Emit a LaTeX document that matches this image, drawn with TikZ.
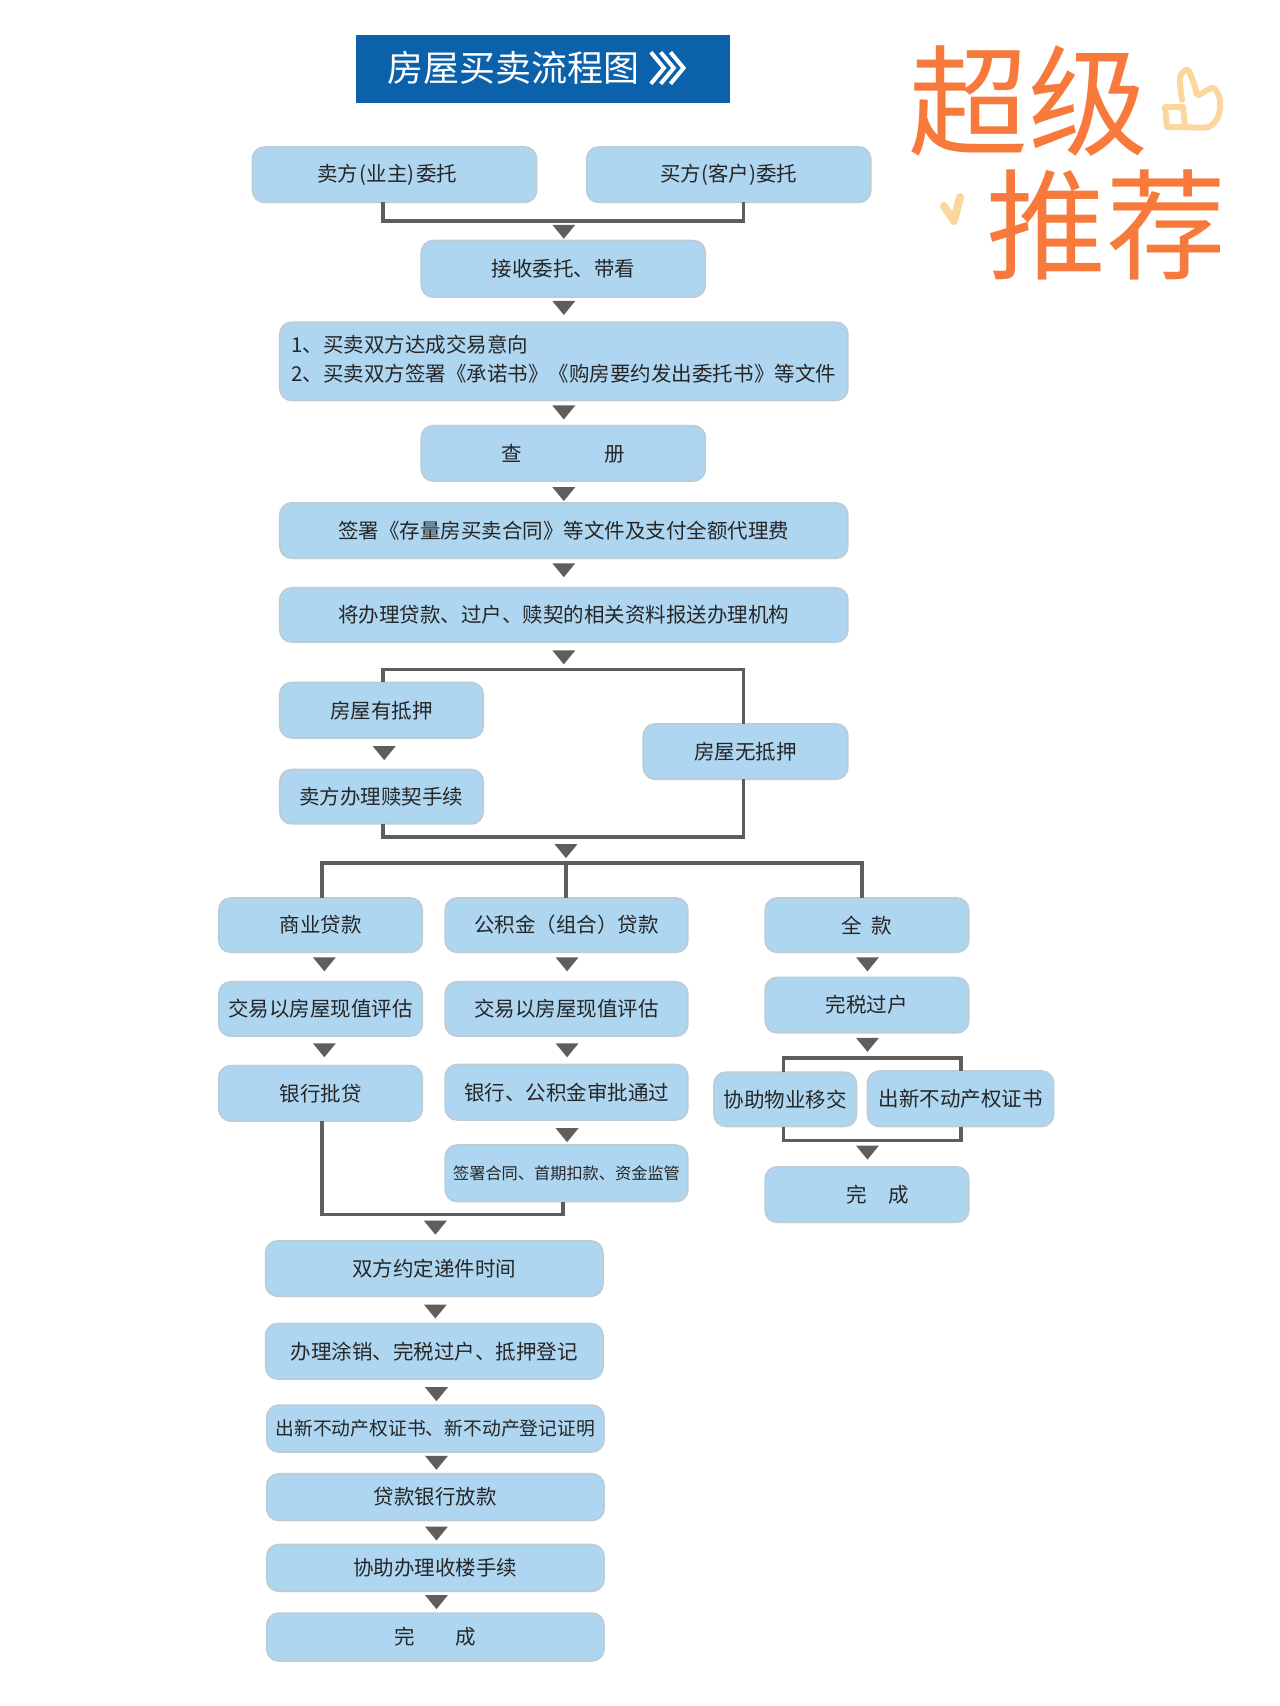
\documentclass[tikz,border=0pt]{standalone}
\usepackage{fontspec}
\setmainfont{Noto Sans CJK SC}
\usetikzlibrary{shapes.geometric}
\definecolor{boxfill}{HTML}{AFD6F0}
\definecolor{boxedge}{HTML}{BCCBD6}
\definecolor{linkgray}{HTML}{5E5E5E}
\definecolor{titleblue}{HTML}{0B62AB}
\definecolor{handorange}{HTML}{F77A3C}
\definecolor{peach}{HTML}{FBD79E}
\tikzset{
  flowbox/.style={draw=boxedge,fill=boxfill,line width=0.8pt,rounded corners=6pt,inner sep=0pt,outer sep=0pt,text=black!85,font=\fontsize{10.25pt}{14pt}\selectfont,align=center},
  downtri/.style={fill=linkgray,isosceles triangle,isosceles triangle apex angle=80,isosceles triangle stretches,minimum height=7pt,minimum width=11.5pt,inner sep=0pt,outer sep=0pt,rotate=-90},
  link/.style={draw=linkgray,line width=1.8pt,line join=miter},
  hand/.style={text=handorange,font=\fontsize{60pt}{62pt}\selectfont,inner sep=0pt},
}
\newcommand{\bx}[6]{%
  \pgfmathsetmacro{\bw}{(#4-#2)*0.5442}%
  \pgfmathsetmacro{\bh}{(#5-#3)*0.5442}%
  \node[flowbox,minimum width=\bw pt,minimum height=\bh pt] (#1) at ({(#2+#4)/2},{(#3+#5)/2}) {#6};}
\newcommand{\tr}[3]{\node[downtri] (#1) at ({#2+1},{#3-1.5}) {};}
\begin{document}
\begin{tikzpicture}[x=0.5442pt,y=-0.5442pt]
\useasboundingbox (0,0) rectangle (1176,1567.4);
% title
\node[fill=titleblue,minimum width=187.2pt,minimum height=33.7pt,inner sep=0pt] (title) at (499,63.5) {};
\node[text=white,font=\fontsize{18pt}{20pt}\selectfont,inner sep=0pt] (titletext) at (472,62) {房屋买卖流程图};
\draw[white,line width=2pt,line join=miter] (598,48) -- (610,62.5) -- (598,77) (607,48) -- (619,62.5) -- (607,77) (616,48) -- (628,62.5) -- (616,77);
% handwriting
\node[hand] (hand1) at (945,93) {超级};
\node[hand] (hand2) at (1017,207) {推荐};
\begin{scope}[x=0.5pt,y=-0.5pt,draw=peach,line width=3pt,line cap=round,line join=round]
  \draw (1165,107) -- (1183,107) -- (1185,127) -- (1167,127) -- cycle;
  \draw plot[smooth] coordinates {(1182,100) (1180,77) (1188,70) (1195,87) (1198,95) (1213,88) (1220,100) (1218,117) (1208,127) (1185,127)};
  \draw[line width=4pt] (944,206) -- (954,221) -- (960,197);
\end{scope}
% boxes
\bx{a1}{232}{135}{493}{186}{\raisebox{0.5pt}{卖方\hspace{0.8pt}(业主)\hspace{0.8pt}委托}\hspace{7.5pt}}
\bx{a2}{539}{135}{800}{186}{\raisebox{0.5pt}{买方(客户)委托}}
\bx{b}{387}{221}{648}{273}{\raisebox{-1.5pt}{接收委托、带看}}
\bx{c}{257}{296}{779}{368}{\raisebox{-1pt}{\begin{tabular}{@{}l@{}}1、买卖双方达成交易意向\\[0.2pt]2、买卖双方签署《承诺书》《购房要约发出委托书》等文件\end{tabular}}}
\bx{d}{387}{391}{648}{442}{\raisebox{0.5pt}{查\hspace{41pt}册}}
\bx{e}{257}{462}{779}{513}{\raisebox{-1pt}{签署《存量房买卖合同》等文件及支付全额代理费}}
\bx{f}{257}{540}{779}{590}{将办理贷款、过户、赎契的相关资料报送办理机构}
\bx{g}{257}{627}{444}{678}{房屋有抵押}
\bx{h}{257}{707}{444}{757}{卖方办理赎契手续}
\bx{i}{591}{665}{779}{716}{\raisebox{0.5pt}{房屋无抵押}}
\bx{j1}{201}{825}{388}{875}{商业贷款}
\bx{j2}{409}{825}{632}{875}{公积金（组合）贷款}
\bx{j3}{703}{825}{890}{875}{\raisebox{0.5pt}{全\hspace{5pt}款}}
\bx{k1}{201}{902}{388}{952}{交易以房屋现值评估}
\bx{k2}{409}{902}{632}{952}{交易以房屋现值评估}
\bx{k3}{703}{898}{890}{949}{\raisebox{0.5pt}{完税过户}}
\bx{l1}{201}{979}{388}{1030}{银行批贷}
\bx{l2}{409}{978}{632}{1029}{银行、公积金审批通过}
\bx{m1}{656}{985}{787}{1035}{协助物业移交}
\bx{m2}{797}{984}{968}{1035}{出新不动产权证书}
\bx{n2}{409}{1052}{632}{1104}{\fontsize{8.1pt}{10pt}\selectfont 签署合同、首期扣款、资金监管}
\bx{o}{703}{1072}{890}{1123}{\hspace{11pt}\raisebox{0.5pt}{完\hspace{10.5pt}成}}
\bx{p}{244}{1140}{554}{1191}{\raisebox{1pt}{双方约定递件时间}}
\bx{q}{244}{1216}{554}{1267}{\raisebox{1pt}{办理涂销、完税过户、抵押登记}}
\bx{r}{245}{1291}{555}{1334}{\raisebox{0.5pt}{\fontsize{9.4pt}{11pt}\selectfont 出新不动产权证书、新不动产登记证明}}
\bx{s}{245}{1354}{555}{1397}{\raisebox{0.5pt}{贷款银行放款}}
\bx{t}{245}{1419}{555}{1462}{协助办理收楼手续}
\bx{u}{245}{1482}{555}{1526}{完\hspace{20pt}成}
% triangles
\tr{t1}{517}{213}\tr{t2}{517}{283}\tr{t3}{517}{379}\tr{t4}{517}{454}\tr{t5}{517}{524}\tr{t6}{517}{604}
\tr{t7}{352}{692}\tr{t8}{519}{782}\tr{t9}{297}{886}\tr{t10}{520}{886}\tr{t11}{796}{886}
\tr{t12}{297}{965}\tr{t13}{520}{965}\tr{t14}{796}{960}\tr{t15}{520}{1043}\tr{t16}{796}{1059}
\tr{t17}{399}{1128}\tr{t18}{399}{1205}\tr{t19}{400}{1281}\tr{t20}{400}{1344}\tr{t21}{400}{1409}\tr{t22}{400}{1472}
% guide coordinates
\coordinate (xa) at (352,203);
\coordinate (xb) at (683,615);
\coordinate (yc) at (0,769);
\coordinate (yd) at (0,793);
\coordinate (xe) at (296,1116);
\coordinate (xf) at (792,793);
\coordinate (xg) at (517,1116);
\coordinate (xh) at (720,972);
\coordinate (xi) at (883,1048);
\coordinate (xj) at (520,793);
% connectors
\draw[link] (xa |- a1.south) -- (xa) -- (xb |- xa) -- (xb |- a2.south);
\draw[link] (xa |- g.north) -- (xa |- xb) -- (xb) -- (xb |- i.north);
\draw[link] (xa |- h.south) -- (xa |- yc) -- (xb |- yc) -- (xb |- i.south);
\draw[link] (xe |- j1.north) -- (xe |- yd) -- (xf) -- (xf |- j3.north);
\draw[link] (xj) -- (xj |- j2.north);
\draw[link] (xe |- l1.south) -- (xe) -- (xg) -- (xg |- n2.south);
\draw[link] (xh |- m1.north) -- (xh) -- (xi |- xh) -- (xi |- m2.north);
\draw[link] (xh |- m1.south) -- (xh |- xi) -- (xi) -- (xi |- m2.south);
\end{tikzpicture}
\end{document}
